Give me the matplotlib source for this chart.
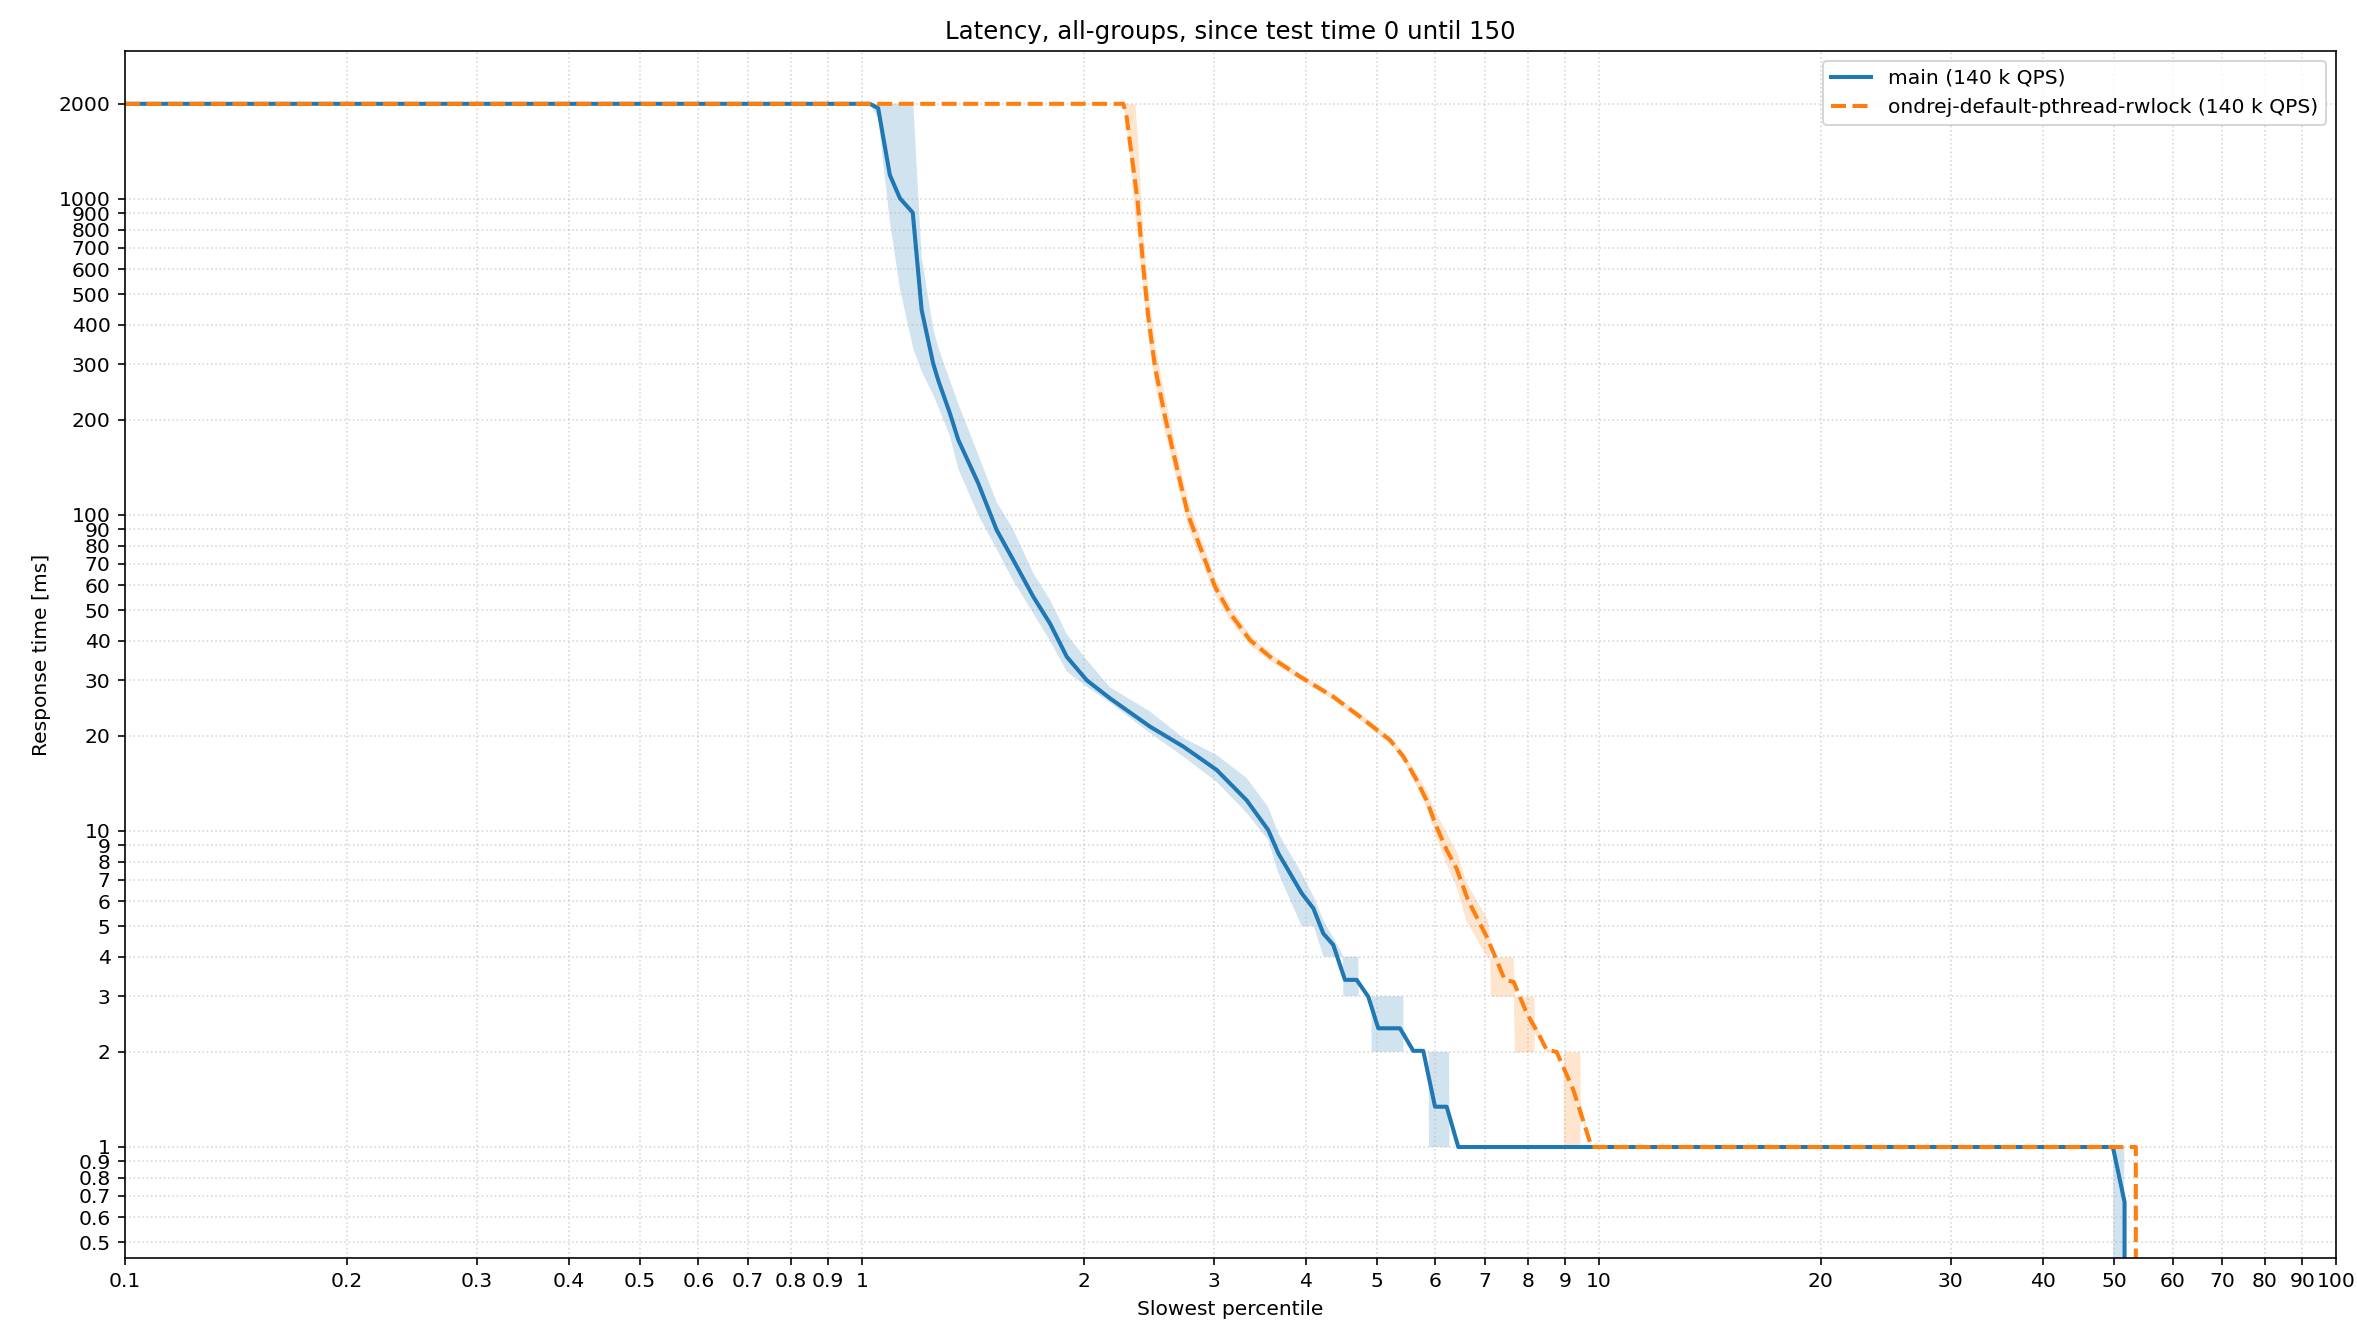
import numpy as np
import matplotlib
matplotlib.use('Agg')
import matplotlib.pyplot as plt
from matplotlib.ticker import FixedLocator, FixedFormatter, NullLocator

# Slowest percentile vs response time (ms)
main_x = [0.1, 1.025, 1.052, 1.091, 1.126, 1.172, 1.205, 1.249, 1.269, 1.316, 1.351, 1.438,
          1.523, 1.604, 1.708, 1.799, 1.896, 2.018, 2.170, 2.459, 2.729, 3.029, 3.327, 3.558,
          3.672, 3.951, 4.097, 4.226, 4.360, 4.522, 4.690, 4.864, 5.018, 5.370, 5.598, 5.775,
          5.991, 6.214, 6.443, 49.8, 51.65, 51.7]
main_y = [2000, 2000, 1937, 1191, 1005, 905, 445, 302, 267, 210, 173, 126,
          89.7, 72.1, 55.1, 45.4, 35.6, 30.0, 26.3, 21.4, 18.5, 15.6, 12.5, 10.07,
          8.5, 6.35, 5.69, 4.74, 4.36, 3.38, 3.38, 2.99, 2.375, 2.375, 2.015, 2.015,
          1.341, 1.341, 1.0, 1.0, 0.67, 0]

# min / max band of the main runs
main_band_x = [0.1, 1.025, 1.052, 1.091, 1.126, 1.174, 1.205, 1.249, 1.269, 1.316, 1.351, 1.438,
               1.523, 1.604, 1.708, 1.799, 1.896, 2.018, 2.170, 2.459, 2.729, 3.029, 3.327,
               3.558, 3.672, 3.95, 4.10, 4.23, 4.36, 4.49, 4.50, 4.715, 4.72, 4.91, 4.916,
               5.427, 5.43, 5.87, 5.88, 6.26, 6.27, 49.85, 49.9, 51.6, 51.65]
main_lo = [2000, 2000, 1800, 850, 520, 335, 285, 240, 220, 178, 140, 100,
           78, 62, 48.8, 40, 32, 28.6, 25.5, 20.4, 17.2, 14.3, 11.4,
           9.37, 7.35, 5.0, 5.0, 4.0, 4.0, 4.0, 3.0, 3.0, 3.0, 3.0, 2.0,
           2.0, 2.0, 2.0, 1.0, 1.0, 1.0, 1.0, 0, 0, 0]
main_hi = [2000, 2000, 2000, 2000, 2000, 2000, 657, 390, 340, 267, 225, 155,
           110, 90, 65.4, 54, 42, 34.8, 28.5, 23.9, 19.7, 17.4, 14.7,
           11.9, 9.83, 7.35, 6.2, 5.2, 4.6, 4.05, 4.0, 4.0, 3.0, 3.0, 3.0,
           3.0, 2.0, 2.0, 2.0, 2.0, 1.0, 1.0, 1.0, 1.0, 0]

rw_x = [0.1, 2.263, 2.286, 2.365, 2.408, 2.446, 2.498, 2.577, 2.673, 2.77, 2.875, 3.013,
        3.157, 3.361, 3.578, 3.929, 4.360, 4.739, 5.205, 5.427, 5.656, 5.836, 6.021, 6.214,
        6.41, 6.64, 7.04, 7.26, 7.45, 7.66, 7.98, 8.32, 8.49, 8.76, 9.23, 9.67, 9.77,
        53.5, 53.5]
rw_y = [2000, 2000, 1821, 993, 611, 424, 294, 205, 142, 100, 79.4, 59.3,
        48.9, 40.2, 35.6, 30.8, 26.6, 23.0, 19.4, 17.2, 14.5, 12.5, 10.3, 8.71,
        7.6, 6.05, 4.63, 3.91, 3.38, 3.33, 2.65, 2.23, 2.03, 2.0, 1.515, 1.078, 1.0,
        1.0, 0]

rw_band_x = [0.1, 2.263, 2.286, 2.346, 2.365, 2.408, 2.446, 2.498, 2.577, 2.673, 2.77, 2.875,
             3.013, 3.157, 3.361, 3.578, 3.929, 4.36, 4.739, 5.205, 5.427, 5.656, 5.836,
             6.021, 6.214, 6.41, 6.60, 7.04, 7.11, 7.12, 7.65, 7.68, 8.16, 8.17, 8.32, 8.49,
             8.94, 8.95, 9.42, 9.43, 9.67, 9.77, 53.5]
rw_lo = [2000, 2000, 1650, 880, 760, 500, 355, 255, 181, 127, 91, 73,
         55.5, 46.5, 38.7, 34.5, 30.1, 26.0, 22.4, 18.9, 16.6, 13.8, 11.8,
         9.4, 7.8, 6.6, 5.2, 4.0, 4.0, 3.0, 3.0, 2.0, 2.0, 2.3, 2.15, 2.0,
         2.0, 1.0, 1.0, 1.3, 1.05, 1.0, 1.0]
rw_hi = [2000, 2000, 2000, 2000, 1550, 750, 510, 345, 235, 158, 110, 86,
         63, 51.5, 41.8, 36.7, 31.5, 27.2, 23.6, 19.9, 17.8, 15.2, 13.4,
         11.3, 9.8, 8.6, 6.9, 5.3, 4.6, 4.0, 4.0, 3.0, 3.0, 2.5, 2.3, 2.05,
         2.0, 2.0, 2.0, 1.4, 1.1, 1.0, 1.0]

x_ticks = [0.1, 0.2, 0.3, 0.4, 0.5, 0.6, 0.7, 0.8, 0.9, 1, 2, 3, 4, 5, 6, 7, 8, 9,
           10, 20, 30, 40, 50, 60, 70, 80, 90, 100]
y_ticks = [0.5, 0.6, 0.7, 0.8, 0.9, 1, 2, 3, 4, 5, 6, 7, 8, 9, 10, 20, 30, 40, 50, 60,
           70, 80, 90, 100, 200, 300, 400, 500, 600, 700, 800, 900, 1000, 2000]

dpi = 146
fig = plt.figure(figsize=(2357 / dpi, 1323 / dpi), dpi=dpi)
ax = fig.add_axes([0.0530, 0.0489, 0.9381, 0.9128])

ax.fill_between(main_band_x, main_lo, main_hi, color='C0', alpha=0.2, linewidth=0)
ax.fill_between(rw_band_x, rw_lo, rw_hi, color='C1', alpha=0.2, linewidth=0)
ax.plot(main_x, main_y, color='C0', linewidth=2, label='main (140 k QPS)')
ax.plot(rw_x, rw_y, color='C1', linewidth=2, linestyle='--',
        label='ondrej-default-pthread-rwlock (140 k QPS)')

ax.set_xscale('log')
ax.set_yscale('log')
ax.set_xlim(0.1, 100)
ax.set_ylim(0.4444, 2946)

ax.xaxis.set_major_locator(FixedLocator(x_ticks))
ax.xaxis.set_major_formatter(FixedFormatter(['{:g}'.format(t) for t in x_ticks]))
ax.yaxis.set_major_locator(FixedLocator(y_ticks))
ax.yaxis.set_major_formatter(FixedFormatter(['{:g}'.format(t) for t in y_ticks]))
ax.xaxis.set_minor_locator(NullLocator())
ax.yaxis.set_minor_locator(NullLocator())

ax.grid(True, which='major', linestyle=':', alpha=0.5)
ax.set_xlabel('Slowest percentile')
ax.set_ylabel('Response time [ms]')
ax.set_title('Latency, all-groups, since test time 0 until 150')
ax.legend(loc='upper right')

fig.savefig('out.png', dpi=dpi)
plt.close(fig)
